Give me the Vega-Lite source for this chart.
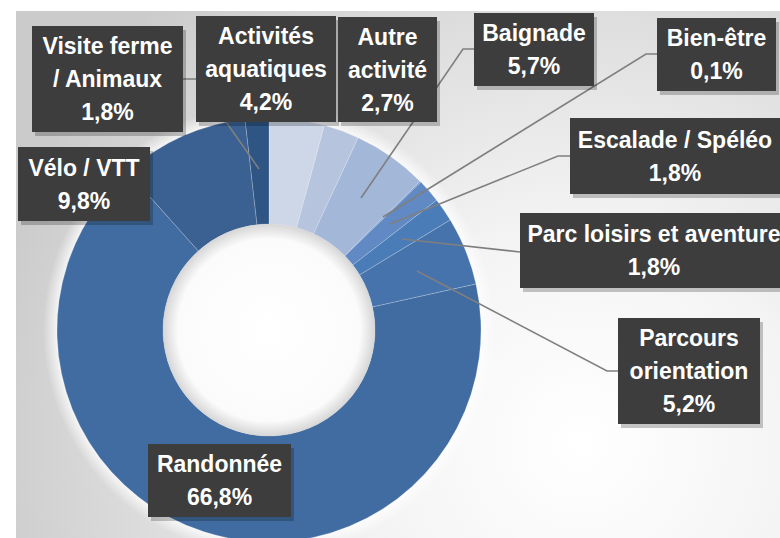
{
  "$schema": "https://vega.github.io/schema/vega-lite/v6.json",
  "width": 764,
  "height": 527,
  "autosize": "none",
  "padding": {"left": 16, "top": 11, "right": 0, "bottom": 0},
  "background": "#ffffff",
  "config": {
    "view": {
      "stroke": null,
      "fill": {
        "gradient": "radial",
        "x1": 0.74, "y1": 0.72, "r1": 0,
        "x2": 0.74, "y2": 0.72, "r2": 0.8,
        "stops": [
          {"offset": 0, "color": "#ffffff"},
          {"offset": 0.35, "color": "#f4f4f4"},
          {"offset": 1, "color": "#cbcbcb"}
        ]
      }
    }
  },
  "datasets": {
    "parts": [
      {"cat": "Activités aquatiques", "pct": 4.2},
      {"cat": "Autre activité", "pct": 2.7},
      {"cat": "Baignade", "pct": 5.7},
      {"cat": "Bien-être", "pct": 0.1},
      {"cat": "Escalade / Spéléo", "pct": 1.8},
      {"cat": "Parc loisirs et aventure", "pct": 1.8},
      {"cat": "Parcours orientation", "pct": 5.2},
      {"cat": "Randonnée", "pct": 66.8},
      {"cat": "Vélo / VTT", "pct": 9.8},
      {"cat": "Visite ferme / Animaux", "pct": 1.8}
    ],
    "boxes": [
      {"cat": "Visite ferme / Animaux", "display": "Visite ferme\n/ Animaux", "x1": -237, "x2": -86, "y1": 304, "y2": 198},
      {"cat": "Activités aquatiques", "display": "Activités\naquatiques", "x1": -73, "x2": 67, "y1": 314, "y2": 208},
      {"cat": "Autre activité", "display": "Autre\nactivité", "x1": 69, "x2": 168, "y1": 313, "y2": 208},
      {"cat": "Baignade", "display": "Baignade", "x1": 205, "x2": 325, "y1": 317, "y2": 244},
      {"cat": "Bien-être", "display": "Bien-être", "x1": 388, "x2": 507, "y1": 312, "y2": 239},
      {"cat": "Escalade / Spéléo", "display": "Escalade / Spéléo", "x1": 301, "x2": 511, "y1": 212, "y2": 136},
      {"cat": "Parc loisirs et aventure", "display": "Parc loisirs et aventure", "x1": 251, "x2": 519, "y1": 117, "y2": 42},
      {"cat": "Parcours orientation", "display": "Parcours\norientation", "x1": 349, "x2": 491, "y1": 12, "y2": -94},
      {"cat": "Randonnée", "display": "Randonnée", "x1": -121, "x2": 22, "y1": -114, "y2": -187},
      {"cat": "Vélo / VTT", "display": "Vélo / VTT", "x1": -251, "x2": -119, "y1": 183, "y2": 109}
    ],
    "leaders": [
      {"cat": "Visite ferme / Animaux", "i": 0, "x": -86, "y": 251},
      {"cat": "Visite ferme / Animaux", "i": 1, "x": -73, "y": 251},
      {"cat": "Visite ferme / Animaux", "i": 2, "x": -10, "y": 161},
      {"cat": "Baignade", "i": 0, "x": 205, "y": 281},
      {"cat": "Baignade", "i": 1, "x": 194, "y": 281},
      {"cat": "Baignade", "i": 2, "x": 92, "y": 132},
      {"cat": "Bien-être", "i": 0, "x": 388, "y": 276},
      {"cat": "Bien-être", "i": 1, "x": 377, "y": 276},
      {"cat": "Bien-être", "i": 2, "x": 114, "y": 113},
      {"cat": "Escalade / Spéléo", "i": 0, "x": 301, "y": 174},
      {"cat": "Escalade / Spéléo", "i": 1, "x": 289, "y": 174},
      {"cat": "Escalade / Spéléo", "i": 2, "x": 121, "y": 106},
      {"cat": "Parc loisirs et aventure", "i": 0, "x": 251, "y": 78},
      {"cat": "Parc loisirs et aventure", "i": 1, "x": 133, "y": 91},
      {"cat": "Parcours orientation", "i": 0, "x": 349, "y": -41},
      {"cat": "Parcours orientation", "i": 1, "x": 338, "y": -41},
      {"cat": "Parcours orientation", "i": 2, "x": 148, "y": 59}
    ]
  },
  "layer": [
    {
      "data": {"values": [{}]},
      "mark": {
        "type": "arc", "outerRadius": 226, "innerRadius": 150,
        "fill": {
          "gradient": "radial", "x1": 0.5, "y1": 0.5, "r1": 0, "x2": 0.5, "y2": 0.5, "r2": 0.5,
          "stops": [
            {"offset": 0, "color": "#ffffff"},
            {"offset": 0.93, "color": "rgba(255,255,255,0.85)"},
            {"offset": 1, "color": "rgba(255,255,255,0)"}
          ]
        }
      },
      "encoding": {
        "x": {"datum": 0, "type": "quantitative", "scale": {"domain": [-253, 511], "nice": false, "zero": false}, "axis": null},
        "y": {"datum": 0, "type": "quantitative", "scale": {"domain": [-208, 319], "nice": false, "zero": false}, "axis": null}
      }
    },
    {
      "data": {"name": "parts"},
      "transform": [{"window": [{"op": "row_number", "as": "idx"}]}],
      "mark": {"type": "arc", "outerRadius": 212, "innerRadius": 106, "stroke": "#ffffff", "strokeWidth": 0.6, "strokeOpacity": 0.35},
      "encoding": {
        "theta": {"field": "pct", "type": "quantitative", "stack": true},
        "order": {"field": "idx", "type": "quantitative"},
        "color": {
          "field": "cat", "type": "nominal", "legend": null,
          "scale": {
            "domain": ["Activités aquatiques", "Autre activité", "Baignade", "Bien-être", "Escalade / Spéléo", "Parc loisirs et aventure", "Parcours orientation", "Randonnée", "Vélo / VTT", "Visite ferme / Animaux"],
            "range": ["#cdd7e8", "#b6c4de", "#a3b7d8", "#7a9bcc", "#6189c3", "#4a7cb8", "#4673ac", "#416ca1", "#3b6192", "#2e5584"]
          }
        },
        "x": {"datum": 0, "type": "quantitative", "scale": {"domain": [-253, 511], "nice": false, "zero": false}, "axis": null},
        "y": {"datum": 0, "type": "quantitative", "scale": {"domain": [-208, 319], "nice": false, "zero": false}, "axis": null}
      }
    },
    {
      "data": {"values": [{}]},
      "mark": {
        "type": "arc", "outerRadius": 106, "innerRadius": 0,
        "fill": {
          "gradient": "radial", "x1": 0.5, "y1": 0.5, "r1": 0, "x2": 0.5, "y2": 0.5, "r2": 0.5,
          "stops": [
            {"offset": 0, "color": "#ffffff"},
            {"offset": 0.86, "color": "#fbfbfb"},
            {"offset": 1, "color": "#d6d6d6"}
          ]
        }
      },
      "encoding": {
        "x": {"datum": 0, "type": "quantitative", "scale": {"domain": [-253, 511], "nice": false, "zero": false}, "axis": null},
        "y": {"datum": 0, "type": "quantitative", "scale": {"domain": [-208, 319], "nice": false, "zero": false}, "axis": null}
      }
    },
    {
      "data": {"name": "leaders"},
      "mark": {"type": "line", "color": "#7f7f7f", "strokeWidth": 1.6},
      "encoding": {
        "x": {"field": "x", "type": "quantitative", "scale": {"domain": [-253, 511], "nice": false, "zero": false}, "axis": null},
        "y": {"field": "y", "type": "quantitative", "scale": {"domain": [-208, 319], "nice": false, "zero": false}, "axis": null},
        "detail": {"field": "cat"},
        "order": {"field": "i", "type": "quantitative"}
      }
    },
    {
      "data": {"name": "boxes"},
      "mark": {"type": "rect", "color": "#000000", "opacity": 0.22, "xOffset": 3, "x2Offset": 3, "yOffset": 4, "y2Offset": 4},
      "encoding": {
        "x": {"field": "x1", "type": "quantitative", "scale": {"domain": [-253, 511], "nice": false, "zero": false}, "axis": null},
        "x2": {"field": "x2"},
        "y": {"field": "y1", "type": "quantitative", "scale": {"domain": [-208, 319], "nice": false, "zero": false}, "axis": null},
        "y2": {"field": "y2"}
      }
    },
    {
      "data": {"name": "boxes"},
      "mark": {"type": "rect", "color": "#3d3d3d", "opacity": 1},
      "encoding": {
        "x": {"field": "x1", "type": "quantitative", "scale": {"domain": [-253, 511], "nice": false, "zero": false}, "axis": null},
        "x2": {"field": "x2"},
        "y": {"field": "y1", "type": "quantitative", "scale": {"domain": [-208, 319], "nice": false, "zero": false}, "axis": null},
        "y2": {"field": "y2"}
      }
    },
    {
      "data": {"name": "boxes"},
      "transform": [
        {"lookup": "cat", "from": {"data": {"name": "parts"}, "key": "cat", "fields": ["pct"]}},
        {"calculate": "datum.display + '\\n' + replace(format(datum.pct, '.1f'), '.', ',') + '%'", "as": "txt"},
        {"calculate": "length(split(datum.txt, '\\n'))", "as": "n"},
        {"calculate": "(datum.x1 + datum.x2) / 2", "as": "tx"},
        {"calculate": "(datum.y1 + datum.y2) / 2 + (datum.n - 1) * 16.5", "as": "ty"}
      ],
      "mark": {"type": "text", "font": "Liberation Sans", "fontWeight": "bold", "fontSize": 23, "color": "#ffffff", "align": "center", "baseline": "middle", "lineHeight": 33, "lineBreak": "\n", "dy": 1},
      "encoding": {
        "x": {"field": "tx", "type": "quantitative", "scale": {"domain": [-253, 511], "nice": false, "zero": false}, "axis": null},
        "y": {"field": "ty", "type": "quantitative", "scale": {"domain": [-208, 319], "nice": false, "zero": false}, "axis": null},
        "text": {"field": "txt"}
      }
    }
  ]
}
